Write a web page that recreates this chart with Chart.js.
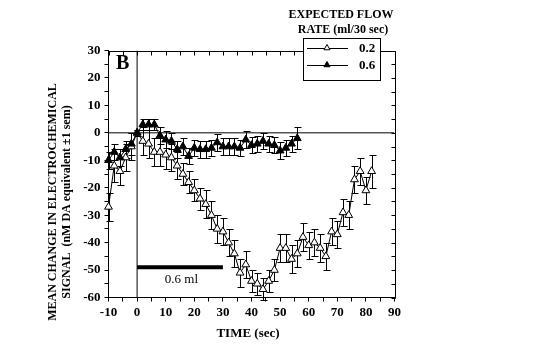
<!DOCTYPE html>
<html><head><meta charset="utf-8">
<script src="https://cdn.jsdelivr.net/npm/chart.js@4/dist/chart.umd.min.js"></script>
<style>html,body{margin:0;padding:0;background:#fff}#wrap{width:540px;height:358px;position:relative}canvas{display:block}</style>
</head><body><div id="wrap"><canvas id="c" width="540" height="358"></canvas></div>
<script>
// Time points (sec) and values (nM DA equivalent) for the two flow rates
const timesLow = [-10,-8,-6,-4,-2,0,2,4,6,8,10,12,14,16,18,20,22,24,26,28,30,32,34,36,38,40,42,44,46,48,50,52,54,56,58,60,62,64,66,68,70,72,74,76,78,80,82];
const valuesLow = [-27,-12,-14,-9,-5,0,-3,-4,-7,-7,-8,-9,-12,-15,-18,-21,-24,-26,-30,-35,-36,-40,-44,-51,-48,-54,-55,-57,-54,-50,-42,-42,-46,-44,-38,-41,-40,-42,-45,-36,-37,-29,-30,-17,-14,-21,-14];
const errLow = [5,6,5,5,5,1,5,5,5,5,5,5,5,4,4,4,4,5,5,5,5,5,5,5,5,4,4,4,4,4,5,5,5,5,5,5,5,5,5,5,5,5,5,5,5,5,6];

const timesHigh = [-10,-8,-6,-4,-2,0,2,4,6,8,10,12,14,16,18,20,22,24,26,28,30,32,34,36,38,40,42,44,46,48,50,52,54,56];
const valuesHigh = [-10,-7,-9,-6,-4,0,3,3,3,-1,-2.5,-3,-6,-5,-8.5,-5.5,-6,-6,-5.5,-3.5,-5,-5,-5,-5.5,-2.5,-4.5,-4,-3,-4,-4.5,-6.5,-5.5,-4,-2];
const errHigh = [3,3,3,3,4,1,2,2,2,3,3,3,3,3,3,3,3,3,3,3,3,3,3,3,3,3,3,3,3,3,3,3,3,4];

const seriesLabels = ['0.2','0.6'];
const legendTitle = ['EXPECTED FLOW','RATE (ml/30 sec)'];
const xTicks = [-10,-5,0,5,10,15,20,25,30,35,40,45,50,55,60,65,70,75,80,85,90];
const yTicks = [-60,-55,-50,-45,-40,-35,-30,-25,-20,-15,-10,-5,0,5,10,15,20,25,30];
const infusion = {start:0, end:30, level:-49, label:'0.6 ml'};

const SERIF = '"Liberation Serif","Times New Roman",serif';

const decor = {
  id:'decor',
  beforeDatasetsDraw(chart){
    const {ctx, scales:{x,y}} = chart;
    ctx.save(); ctx.strokeStyle='#000'; ctx.lineWidth=1;
    chart.data.datasets.forEach(ds=>{
      if(!ds.errors) return;
      ds.data.forEach((p,i)=>{
        const px = Math.round(x.getPixelForValue(p.x))+0.5;
        const t = Math.round(y.getPixelForValue(p.y+ds.errors[i]))+0.5;
        const b = Math.round(y.getPixelForValue(p.y-ds.errors[i]))+0.5;
        ctx.beginPath();
        ctx.moveTo(px,t); ctx.lineTo(px,b);
        ctx.moveTo(px-3,t); ctx.lineTo(px+4,t);
        ctx.moveTo(px-3,b); ctx.lineTo(px+4,b);
        ctx.stroke();
      });
    });
    ctx.restore();
  },
  afterDraw(chart){
    const {ctx, chartArea:a, scales:{x,y}} = chart;
    ctx.save();
    ctx.strokeStyle='#000'; ctx.fillStyle='#000'; ctx.lineWidth=1;
    const top = Math.round(a.top)+0.5, right = Math.round(a.right)+0.5;
    ctx.beginPath();
    ctx.moveTo(Math.round(a.left), top); ctx.lineTo(right, top);
    ctx.moveTo(right, top); ctx.lineTo(right, Math.round(a.bottom)+0.5);
    xTicks.forEach(v=>{const px=Math.round(x.getPixelForValue(v))+0.5; ctx.moveTo(px,top); ctx.lineTo(px,top+4);});
    yTicks.forEach(v=>{const py=Math.round(y.getPixelForValue(v))+0.5; ctx.moveTo(right,py); ctx.lineTo(right-4,py);});
    ctx.stroke();

    // legend
    ctx.fillStyle='#fff';
    ctx.fillRect(303.5,38.5,77,42);
    ctx.strokeRect(303.5,38.5,77,42);
    const rows=[48.5,65.5];
    rows.forEach((ry,i)=>{
      ctx.beginPath(); ctx.moveTo(307,ry); ctx.lineTo(348,ry); ctx.stroke();
      ctx.fillStyle = i===0 ? '#fff' : '#000'; ctx.strokeStyle='#000';
      Chart.helpers.drawPoint(ctx,{pointStyle:'triangle',radius:3.5,borderWidth:1,rotation:0},327,ry-0.5);
      ctx.fillStyle='#000';
      ctx.font='bold 13px '+SERIF; ctx.textAlign='left'; ctx.textBaseline='middle';
      ctx.fillText(seriesLabels[i],359,ry+0.5);
    });
    ctx.font='bold 12px '+SERIF; ctx.textAlign='center'; ctx.textBaseline='middle';
    ctx.fillText(legendTitle[0],341,15);
    ctx.fillText(legendTitle[1],343,30);

    // panel letter
    ctx.font='bold 20px '+SERIF; ctx.textAlign='left';
    ctx.fillText('B',116,64);

    // infusion label
    ctx.font='13px '+SERIF; ctx.textAlign='center';
    ctx.fillText(infusion.label, x.getPixelForValue(15.5), y.getPixelForValue(-53.5));

    // axis titles
    ctx.font='bold 13px '+SERIF;
    ctx.fillText('TIME (sec)',248,334);
    ctx.save(); ctx.translate(53,202); ctx.rotate(-Math.PI/2);
    ctx.font='bold 12px '+SERIF;
    ctx.fillText('MEAN CHANGE IN ELECTROCHEMICAL',0,0);
    ctx.fillText('SIGNAL  (nM DA equivalent \u00B11 sem)',0,14);
    ctx.restore();
    ctx.restore();
  }
};

const tickFont = {family:SERIF, size:13, weight:'bold'};
new Chart(document.getElementById('c').getContext('2d'), {
  type:'scatter',
  data:{datasets:[
    {label:seriesLabels[1], data:timesHigh.map((t,i)=>({x:t,y:valuesHigh[i]})), errors:errHigh, clip:false,
     showLine:true, borderColor:'#000', borderWidth:1, pointStyle:'triangle', pointRadius:4.5,
     pointBackgroundColor:'#000', pointBorderColor:'#000', pointBorderWidth:1},
    {label:seriesLabels[0], data:timesLow.map((t,i)=>({x:t,y:valuesLow[i]})), errors:errLow, clip:false,
     showLine:true, borderColor:'#000', borderWidth:1, pointStyle:'triangle', pointRadius:4.5,
     pointBackgroundColor:'#fff', pointBorderColor:'#000', pointBorderWidth:1},
    {data:[{x:infusion.start,y:infusion.level},{x:infusion.end,y:infusion.level}], showLine:true, borderColor:'#000', borderWidth:4, pointRadius:0, borderCapStyle:'butt'},
    {data:[{x:0,y:-60},{x:0,y:30}], showLine:true, borderColor:'#000', borderWidth:1, pointRadius:0},
    {data:[{x:-10,y:0},{x:90,y:0}], showLine:true, borderColor:'#000', borderWidth:1, pointRadius:0}
  ]},
  options:{
    responsive:false, animation:false, devicePixelRatio:1,
    layout:{padding:{left:0,right:145.5,top:50.5,bottom:30.5}},
    plugins:{legend:{display:false}, tooltip:{enabled:false}},
    scales:{
      x:{type:'linear', min:-10, max:90,
        afterBuildTicks:s=>{s.ticks=xTicks.map(v=>({value:v}));},
        afterFit:s=>{s.height=30;},
        ticks:{font:tickFont, color:'#000', maxRotation:0, autoSkip:false, padding:3,
          callback:v=> v%10===0 ? String(v) : ''},
        grid:{drawOnChartArea:false, drawTicks:true, tickLength:4, color:'#000'},
        border:{color:'#000', width:1}},
      y:{type:'linear', min:-60, max:30,
        afterBuildTicks:s=>{s.ticks=yTicks.map(v=>({value:v}));},
        afterFit:s=>{s.width=108.5;},
        ticks:{font:tickFont, color:'#000', autoSkip:false, padding:4,
          callback:v=> v%10===0 ? String(v) : ''},
        grid:{drawOnChartArea:false, drawTicks:true, tickLength:4, color:'#000'},
        border:{color:'#000', width:1}}
    }
  },
  plugins:[decor]
});
</script>
</body></html>
